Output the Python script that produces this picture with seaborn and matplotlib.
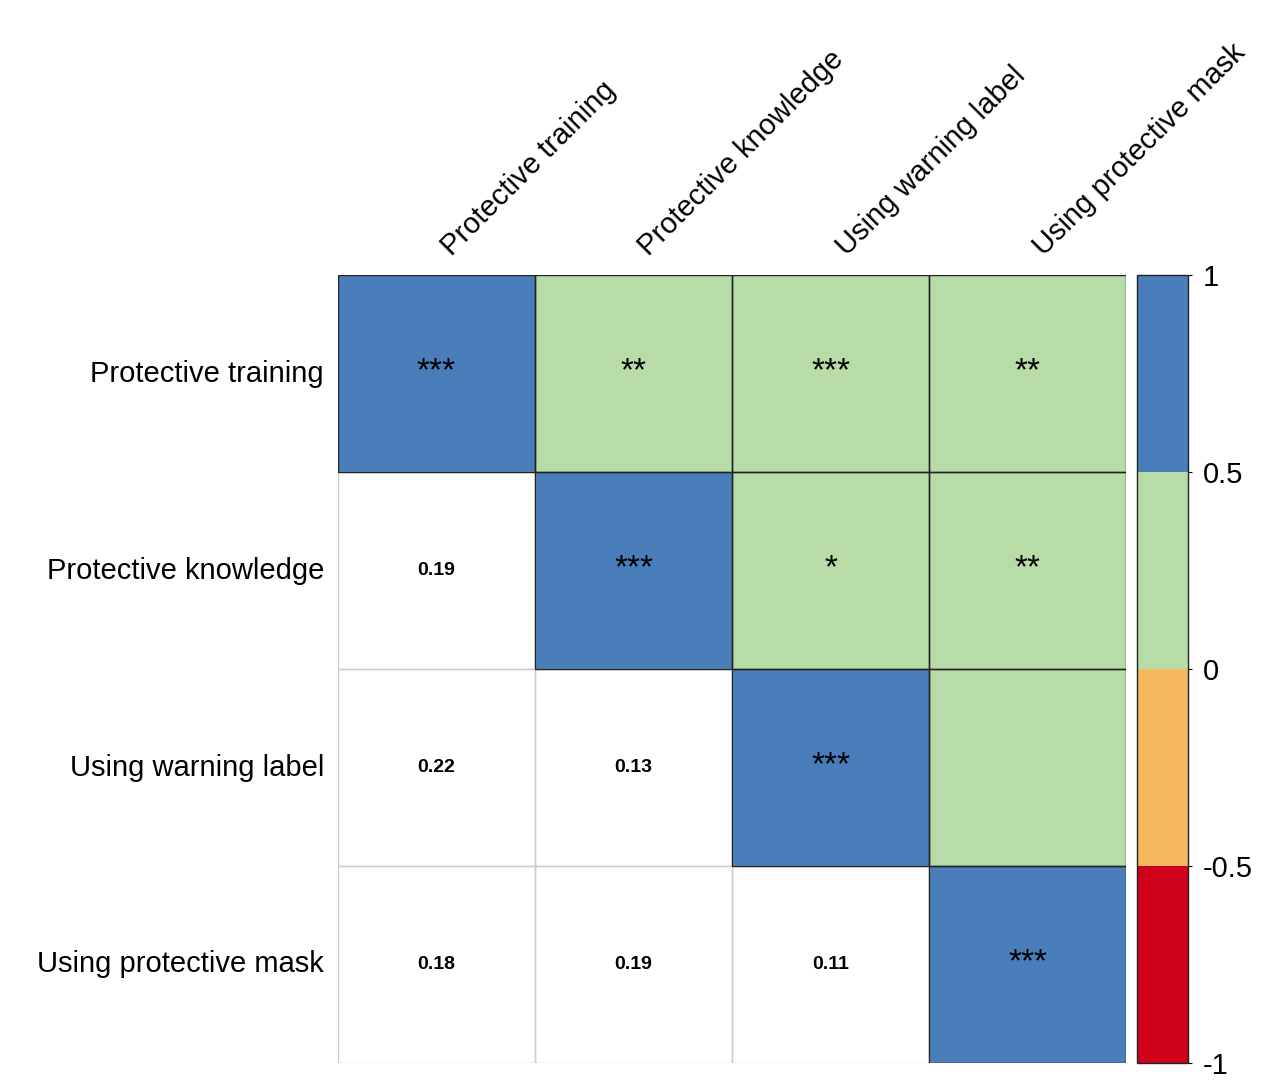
import numpy as np
import pandas as pd
import seaborn as sns
import matplotlib.pyplot as plt
from matplotlib.colors import ListedColormap, BoundaryNorm
from matplotlib.patches import Rectangle

plt.rcParams['font.family'] = ['Liberation Sans', 'DejaVu Sans']

labels = ['Protective training', 'Protective knowledge', 'Using warning label', 'Using protective mask']
corr = np.array([
    [1.00, 0.19, 0.22, 0.18],
    [0.19, 1.00, 0.13, 0.19],
    [0.22, 0.13, 1.00, 0.11],
    [0.18, 0.19, 0.11, 1.00],
])
stars = np.array([
    ['***', '**', '***', '**'],
    ['', '***', '*', '**'],
    ['', '', '***', ''],
    ['', '', '', '***'],
])

df = pd.DataFrame(corr, index=labels, columns=labels)
upper_mask = np.tril(np.ones_like(corr, dtype=bool), k=-1)
lower_mask = ~upper_mask

cmap = ListedColormap(['#D0021B', '#F5B961', '#B7DCA8', '#4A7EBB'])
norm = BoundaryNorm([-1, -0.5, 0, 0.5, 1], cmap.N)

fig = plt.figure(figsize=(12.8, 10.82), dpi=100)
ax = fig.add_axes([0.264, 0.0176, 0.616, 0.728])
cax = fig.add_axes([0.888, 0.0176, 0.040, 0.728])

lower_text = np.where(upper_mask, np.vectorize(lambda v: f'{v:.2f}')(corr), '')
sns.heatmap(df, mask=lower_mask, cmap=ListedColormap(['white']), cbar=False,
            annot=lower_text, fmt='', annot_kws={'fontsize': 14, 'fontweight': 'bold', 'color': 'black'},
            linewidths=0, ax=ax)
sns.heatmap(df, mask=upper_mask, cmap=cmap, norm=norm, vmin=-1, vmax=1,
            annot=stars, fmt='', annot_kws={'fontsize': 24, 'color': 'black', 'va': 'top'},
            linewidths=0, cbar_ax=cax, ax=ax)
# nudge stars down so they sit centred in the cell
for t in ax.texts:
    if '*' in t.get_text():
        x, y = t.get_position()
        t.set_position((x, y - 0.09))

n = len(labels)
# light grey cell borders in the lower triangle, dark borders on the coloured cells
for i in range(n):
    for j in range(n):
        if upper_mask[i, j]:
            ax.add_patch(Rectangle((j, i), 1, 1, fill=False, ec='#cccccc', lw=1, zorder=3))
for i in range(n):
    for j in range(n):
        if not upper_mask[i, j]:
            ax.add_patch(Rectangle((j, i), 1, 1, fill=False, ec='#222222', lw=1, zorder=4))

ax.xaxis.tick_top()
ax.set_xticklabels(labels, rotation=45, ha='left', va='bottom', fontsize=21)
ax.set_yticklabels(labels, rotation=0, fontsize=21)
ax.tick_params(length=0, pad=10)
ax.set_xlabel('')
ax.set_ylabel('')

cbar = ax.collections[1].colorbar
cbar.set_ticks([-1, -0.5, 0, 0.5, 1])
cbar.set_ticklabels(['-1', '-0.5', '0', '0.5', '1'])
cbar.ax.tick_params(labelsize=21, length=3, pad=8)
cbar.outline.set_edgecolor('#222222')
cbar.outline.set_linewidth(1)

fig.savefig('out.png', dpi=100)
